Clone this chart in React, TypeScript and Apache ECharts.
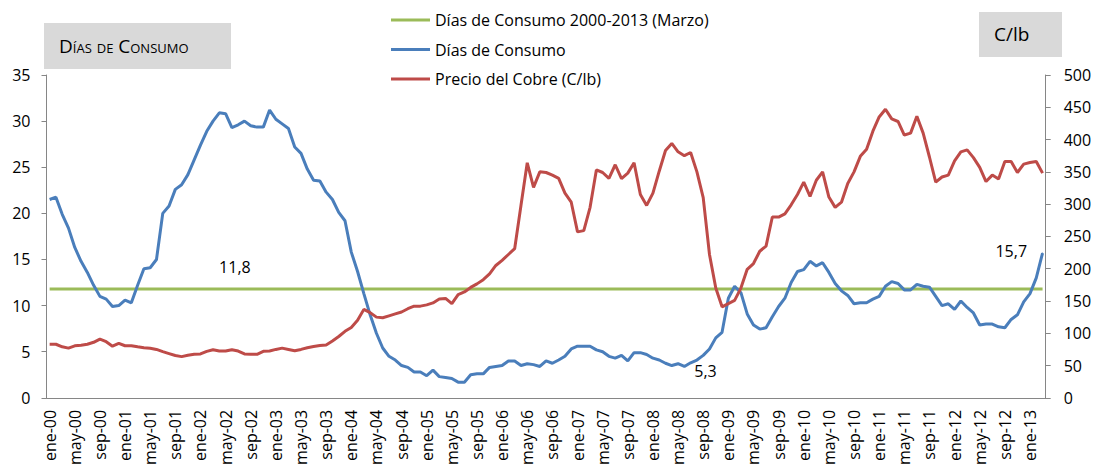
import React, { useEffect, useRef } from 'react';
import * as echarts from 'echarts';

const MONTHS = ['ene', 'feb', 'mar', 'abr', 'may', 'jun', 'jul', 'ago', 'sep', 'oct', 'nov', 'dic'];
const YEARS = ['00', '01', '02', '03', '04', '05', '06', '07', '08', '09', '10', '11', '12', '13'];
const MONTHS_IN_LAST_YEAR = 3; // hasta marzo 2013

const categories: string[] = YEARS.flatMap((y, yi) =>
  MONTHS.slice(0, yi === YEARS.length - 1 ? MONTHS_IN_LAST_YEAR : 12).map((m) => `${m}-${y}`)
);

// Días de Consumo (eje izquierdo)
const DIAS_CONSUMO = [
  21.5, 21.75, 19.9, 18.4, 16.3, 14.8, 13.6, 12.2, 11.0, 10.7, 9.9, 10.0,
  10.6, 10.3, 12.2, 14.0, 14.1, 15.0, 20.0, 20.8, 22.6, 23.1, 24.2, 25.8,
  27.4, 28.9, 30.0, 30.9, 30.8, 29.3, 29.6, 30.0, 29.5, 29.35, 29.35, 31.2,
  30.2, 29.7, 29.2, 27.2, 26.5, 24.8, 23.6, 23.5, 22.3, 21.5, 20.1, 19.2,
  15.8, 13.7, 11.3, 9.0, 7.0, 5.4, 4.5, 4.1, 3.5, 3.3, 2.8, 2.8,
  2.4, 3.0, 2.3, 2.2, 2.1, 1.7, 1.7, 2.5, 2.6, 2.6, 3.3, 3.4,
  3.5, 4.0, 4.0, 3.5, 3.7, 3.6, 3.4, 4.0, 3.75, 4.1, 4.5, 5.3,
  5.6, 5.6, 5.6, 5.2, 5.0, 4.5, 4.3, 4.6, 4.0, 4.9, 4.9, 4.7,
  4.3, 4.1, 3.75, 3.5, 3.7, 3.4, 3.8, 4.1, 4.6, 5.3, 6.5, 7.1,
  10.8, 12.1, 11.4, 9.1, 7.9, 7.45, 7.6, 8.8, 9.9, 10.8, 12.5, 13.7,
  13.9, 14.8, 14.3, 14.65, 13.6, 12.4, 11.6, 11.1, 10.2, 10.3, 10.3, 10.7,
  11.0, 12.1, 12.6, 12.4, 11.7, 11.7, 12.3, 12.1, 12.0, 11.0, 10.0, 10.2,
  9.6, 10.5, 9.8, 9.2, 7.9, 8.0, 8.0, 7.7, 7.6, 8.5, 9.0, 10.4,
  11.3, 13.0, 15.7,
];

// Precio del Cobre, C/lb (eje derecho)
const PRECIO_COBRE = [
  83, 83, 79, 77, 80.5, 81.5, 83, 86, 91, 87, 80, 84.5,
  80.7, 80.7, 79, 77.5, 76.8, 75, 71.5, 68.5, 65.5, 63.8, 66, 67.6,
  68, 72, 74.5, 72.5, 72.5, 74.6, 72.5, 68, 67.4, 67.4, 72, 72.5,
  75, 77, 75, 73, 75, 77.6, 79.5, 81, 81.8, 88, 95, 103,
  109, 120, 137, 132, 125, 124, 127, 130, 133, 138, 142, 142,
  144, 147, 153, 154, 146, 160, 164, 171, 176.5, 183, 192, 205,
  213, 222, 231, 298, 364, 326, 350, 349, 345, 340, 317, 303,
  257, 259, 295, 353, 349, 340, 361, 339.5, 348, 364, 315, 298,
  317, 351, 383, 394, 381, 375, 380, 350, 310, 222, 170, 141,
  146, 151, 170, 199, 208, 227, 235, 280, 280, 285, 299, 315,
  334, 312, 337, 350, 311, 295, 303, 332, 350, 374, 385, 413,
  435, 447, 432, 428, 407, 410, 436, 410, 373, 334, 342, 345,
  367, 381, 384, 372, 357, 335, 345, 339, 366, 366, 349, 362,
  364.5, 366, 348,
];

// Promedio Días de Consumo 2000-2013 (Marzo)
const PROMEDIO_DIAS = 11.8;

const NAME_PROMEDIO = 'Días de Consumo 2000-2013 (Marzo)';
const NAME_DIAS = 'Días de Consumo';
const NAME_COBRE = 'Precio del Cobre (C/lb)';

const FONT = "'Open Sans', sans-serif";
const AXIS_COLOR = '#868686';

const fmt = (p: any) => String(p.value).replace('.', ',');

function labeled(value: number, label: any) {
  return {
    value,
    symbol: 'circle',
    symbolSize: 1,
    label: { show: true, formatter: fmt, fontSize: 16, color: '#000', fontFamily: FONT, ...label },
  };
}

export default function App() {
  const ref = useRef<HTMLDivElement>(null);

  useEffect(() => {
    if (!ref.current) return;
    const chart = echarts.init(ref.current, undefined, { renderer: 'svg' });

    const promedioData: any[] = categories.map(() => PROMEDIO_DIAS);
    promedioData[29] = labeled(PROMEDIO_DIAS, { position: 'top', distance: 13, offset: [3, 0] });

    const diasData: any[] = DIAS_CONSUMO.slice();
    diasData[105] = labeled(DIAS_CONSUMO[105], { position: 'bottom', distance: 14, offset: [-4, 0] });
    diasData[158] = labeled(DIAS_CONSUMO[158], { position: 'left', distance: 15, offset: [0, -2] });

    const option: any = {
      animation: false,
      textStyle: { fontFamily: FONT },
      grid: { left: 46.5, right: 49.3, top: 75, bottom: 69, containLabel: false },
      legend: {
        orient: 'vertical',
        left: 386,
        top: 5,
        icon: 'rect',
        itemWidth: 39,
        itemHeight: 3,
        itemGap: 9.5,
        selectedMode: false,
        textStyle: { fontSize: 16, color: '#000', lineHeight: 20, fontFamily: FONT },
        data: [NAME_PROMEDIO, NAME_DIAS, NAME_COBRE],
      },
      xAxis: {
        type: 'category',
        data: categories,
        boundaryGap: true,
        axisLine: { lineStyle: { color: AXIS_COLOR, width: 1 } },
        axisTick: { interval: 3, length: 5, lineStyle: { color: AXIS_COLOR } },
        axisLabel: { interval: 3, rotate: 90, margin: 12, fontSize: 16, color: '#000', fontFamily: FONT },
        splitLine: { show: false },
      },
      yAxis: [
        {
          type: 'value',
          min: 0,
          max: 35,
          interval: 5,
          axisLine: { show: true, lineStyle: { color: AXIS_COLOR, width: 1 } },
          axisTick: { show: true, length: 5, lineStyle: { color: AXIS_COLOR } },
          axisLabel: { margin: 16, fontSize: 16, color: '#000', fontFamily: FONT },
          splitLine: { show: false },
        },
        {
          type: 'value',
          min: 0,
          max: 500,
          interval: 50,
          position: 'right',
          axisLine: { show: true, lineStyle: { color: AXIS_COLOR, width: 1 } },
          axisTick: { show: true, length: 5, lineStyle: { color: AXIS_COLOR } },
          axisLabel: { margin: 18, fontSize: 16, color: '#000', fontFamily: FONT },
          splitLine: { show: false },
        },
      ],
      graphic: [
        { type: 'rect', shape: { x: 44, y: 23, width: 187, height: 46 }, style: { fill: '#d9d9d9' } },
        {
          type: 'text',
          x: 59,
          y: 46,
          style: {
            text: 'Días de Consumo',
            font: "small-caps 19px 'Open Sans', sans-serif",
            fill: '#000',
            verticalAlign: 'middle',
            align: 'left',
          },
        },
        { type: 'rect', shape: { x: 979, y: 12, width: 83, height: 45 }, style: { fill: '#d9d9d9' } },
        {
          type: 'text',
          x: 994,
          y: 34,
          style: {
            text: 'C/lb',
            font: "19px 'Open Sans', sans-serif",
            fill: '#000',
            verticalAlign: 'middle',
            align: 'left',
          },
        },
      ],
      series: [
        {
          name: NAME_PROMEDIO,
          type: 'line',
          yAxisIndex: 0,
          data: promedioData,
          symbol: 'none',
          showSymbol: true,
          showAllSymbol: true,
          color: '#9bbb59',
          lineStyle: { width: 3, color: '#9bbb59' },
        },
        {
          name: NAME_DIAS,
          type: 'line',
          yAxisIndex: 0,
          data: diasData,
          symbol: 'none',
          showSymbol: true,
          showAllSymbol: true,
          color: '#4a7ebb',
          lineStyle: { width: 3, color: '#4a7ebb' },
        },
        {
          name: NAME_COBRE,
          type: 'line',
          yAxisIndex: 1,
          data: PRECIO_COBRE,
          symbol: 'none',
          color: '#be4b48',
          lineStyle: { width: 3, color: '#be4b48' },
        },
      ],
    };

    chart.setOption(option);
    return () => chart.dispose();
  }, []);

  return (
    <div
      ref={ref}
      style={{ position: 'fixed', left: 0, top: 0, width: 1095, height: 468, background: '#fff' }}
    />
  );
}
